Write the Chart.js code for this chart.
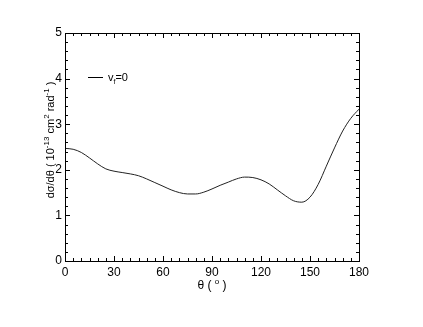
<!DOCTYPE html>
<html>
<head>
<meta charset="utf-8">
<script src="https://cdn.jsdelivr.net/npm/chart.js@4/dist/chart.umd.min.js"></script>
<style>
  html, body { margin: 0; padding: 0; background: #fff; }
  #wrap { width: 423px; height: 327px; }
</style>
</head>
<body>
<div id="wrap"><canvas id="chart"></canvas></div>
<script>
// 数据
const theta = [0, 5, 10, 15, 20, 25, 30, 35, 40, 45, 50, 55, 60, 65, 70, 75, 80, 85, 90,
  95, 100, 105, 110, 115, 120, 125, 130, 135, 140, 145, 150, 155, 160, 165, 170, 175, 180];
const dsigma = [2.47, 2.45, 2.38, 2.26, 2.13, 2.02, 1.97, 1.94, 1.91, 1.87, 1.80, 1.72, 1.64,
  1.56, 1.50, 1.47, 1.47, 1.51, 1.58, 1.66, 1.73, 1.80, 1.84, 1.83, 1.78, 1.69, 1.56, 1.43,
  1.32, 1.29, 1.40, 1.68, 2.08, 2.48, 2.85, 3.13, 3.33];
const xTicks = [0, 30, 60, 90, 120, 150, 180];
const yTicks = [0, 1, 2, 3, 4, 5];

const FONT = 'Liberation Sans, Arial, sans-serif';

// 向内的刻度、边框、坐标轴标题和图例
const framePlugin = {
  id: 'frame',
  afterDraw(chart) {
    const ctx = chart.ctx;
    const a = chart.chartArea;
    const xs = chart.scales.x, ys = chart.scales.y;
    ctx.save();
    ctx.strokeStyle = '#000';
    ctx.lineWidth = 1;
    ctx.strokeRect(Math.round(a.left) + 0.5, Math.round(a.top) + 0.5,
      Math.round(a.right - a.left), Math.round(a.bottom - a.top));

    ctx.beginPath();
    for (let v = 0; v <= 180; v += 5) {
      const px = Math.round(xs.getPixelForValue(v)) + 0.5;
      const len = v % 30 === 0 ? 5 : 3;
      ctx.moveTo(px, a.bottom); ctx.lineTo(px, a.bottom - len);
      ctx.moveTo(px, a.top); ctx.lineTo(px, a.top + len);
    }
    for (let i = 0; i <= 25; i++) {
      const py = Math.round(ys.getPixelForValue(i * 0.2)) + 0.5;
      const len = i % 5 === 0 ? 5 : 3;
      ctx.moveTo(a.left, py); ctx.lineTo(a.left + len, py);
      ctx.moveTo(a.right, py); ctx.lineTo(a.right - len, py);
    }
    ctx.stroke();

    ctx.fillStyle = '#000';
    ctx.textBaseline = 'alphabetic';

    // x 轴标题
    const xMid = (a.left + a.right) / 2;
    const xParts = [['θ ( ', 12, 0], ['o', 8, -5], [' )', 12, 0]];
    drawParts(ctx, xParts, xMid, 289, true);

    // y 轴标题 (旋转)
    ctx.save();
    ctx.translate(54, 140);
    ctx.rotate(-Math.PI / 2);
    const yParts = [['dσ/dθ ( 10', 11, 0], ['-13', 8, -5], [' cm', 11, 0], ['2', 8, -5],
      [' rad', 11, 0], ['-1', 8, -5], [' )', 11, 0]];
    drawParts(ctx, yParts, 0, 0, true);
    ctx.restore();

    // 图例
    ctx.beginPath();
    ctx.moveTo(88, 77.5); ctx.lineTo(103, 77.5);
    ctx.stroke();
    drawParts(ctx, [['v', 11, 0], ['f', 7, 3], ['=0', 11, 0]], 108, 81, false);
    ctx.restore();
  }
};

function drawParts(ctx, parts, x, y, centered) {
  let total = 0;
  parts.forEach(p => { ctx.font = p[1] + 'px ' + FONT; total += ctx.measureText(p[0]).width; });
  let cx = centered ? x - total / 2 : x;
  ctx.textAlign = 'left';
  parts.forEach(p => {
    ctx.font = p[1] + 'px ' + FONT;
    ctx.fillText(p[0], cx, y + p[2]);
    cx += ctx.measureText(p[0]).width;
  });
}

const config = {
  type: 'line',
  data: {
    datasets: [{
      label: 'vf=0',
      data: theta.map((t, i) => ({ x: t, y: dsigma[i] })),
      borderColor: '#222',
      borderWidth: 1,
      pointRadius: 0,
      fill: false,
      cubicInterpolationMode: 'monotone'
    }]
  },
  options: {
    responsive: true,
    maintainAspectRatio: false,
    animation: false,
    layout: { padding: { left: 0, right: 64, top: 33, bottom: 0 } },
    plugins: {
      legend: { display: false },
      tooltip: { enabled: false }
    },
    scales: {
      x: {
        type: 'linear',
        min: 0, max: 180,
        afterBuildTicks: s => { s.ticks = xTicks.map(v => ({ value: v })); },
        afterFit: s => { s.height = 66; },
        grid: { display: false, drawTicks: false },
        border: { display: false },
        ticks: { color: '#000', padding: 4, maxRotation: 0, font: { family: FONT, size: 12 } }
      },
      y: {
        type: 'linear',
        min: 0, max: 5,
        afterBuildTicks: s => { s.ticks = yTicks.map(v => ({ value: v })); },
        afterFit: s => { s.width = 65; },
        grid: { display: false, drawTicks: false },
        border: { display: false },
        ticks: { color: '#000', padding: 3, font: { family: FONT, size: 12 } }
      }
    }
  },
  plugins: [framePlugin]
};

new Chart(document.getElementById('chart'), config);
</script>
</body>
</html>
